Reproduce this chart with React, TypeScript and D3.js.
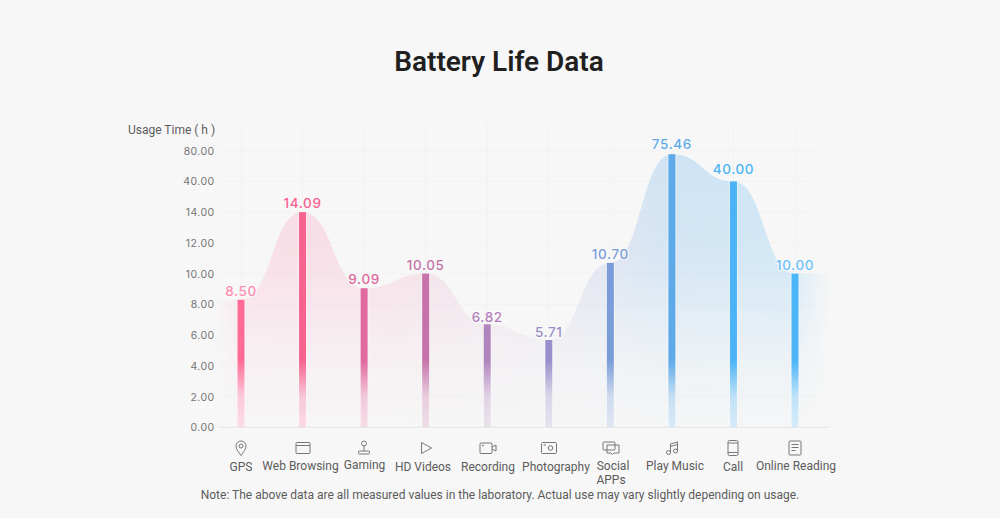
import React from "react";
import * as d3 from "d3";

const categories = ["GPS", "Web Browsing", "Gaming", "HD Videos", "Recording", "Photography", "Social APPs", "Play Music", "Call", "Online Reading"];
const valueLabels = ["8.50", "14.09", "9.09", "10.05", "6.82", "5.71", "10.70", "75.46", "40.00", "10.00"];
// Heights as actually drawn in the picture
const drawnLevels = [8.3, 14.06, 9.05, 10, 6.7, 5.68, 10.7, 75.46, 40, 10];
const yTicks = [0, 2, 4, 6, 8, 10, 12, 14, 40, 80];
const barColors = ["#ff6b96", "#f8628f", "#e0699d", "#c673a9", "#b085bd", "#9a8fca", "#7a9dd9", "#5eaae8", "#4bb3f6", "#4bb5f8"];
const labelColors = ["#ff8fb0", "#f8628f", "#e0699d", "#c673a9", "#b57fbc", "#9a8fca", "#7a9dd9", "#5eaae8", "#4bb3f6", "#6ec2f8"];

const W = 1000, H = 518;
const baseY = 427.3, topY = 150.7;
const yRange = yTicks.map((_, i) => baseY + ((topY - baseY) * i) / (yTicks.length - 1));
const y = d3.scaleLinear().domain(yTicks).range(yRange);
const x = d3.scalePoint().domain(categories).range([241, 795]);

const labelOffset = [4, 4, 4, 4, 2, 3, 3.5, 5, 7, 4];

const areaPoints: [number, number][] = [
  [190, drawnLevels[0]],
  ...categories.map((c, i) => [x(c)!, drawnLevels[i]] as [number, number]),
  [850, drawnLevels[9]],
];
const areaPath = d3.area<[number, number]>().x(d => d[0]).y0(baseY).y1(d => y(d[1])).curve(d3.curveBumpX)(areaPoints)!;

const catLabels: { t: string; x: number; y: number }[][] = [
  [{ t: "GPS", x: 241, y: 471 }],
  [{ t: "Web Browsing", x: 300.5, y: 470 }],
  [{ t: "Gaming", x: 364.5, y: 469 }],
  [{ t: "HD Videos", x: 423, y: 471 }],
  [{ t: "Recording", x: 488, y: 471 }],
  [{ t: "Photography", x: 556, y: 471 }],
  [{ t: "Social", x: 613, y: 470 }, { t: "APPs", x: 611, y: 484 }],
  [{ t: "Play Music", x: 675, y: 470 }],
  [{ t: "Call", x: 733, y: 471 }],
  [{ t: "Online Reading", x: 796, y: 470 }],
];

const iconStroke = { fill: "none", stroke: "#777", strokeWidth: 1 };
const icons: React.ReactNode[] = [
  <g {...iconStroke}><path d="M0 7.500 C-3 3.500 -5 1 -5 -2 A5 5 0 0 1 5 -2 C5 1 3 3.500 0 7.500Z" /><circle cx={0} cy={-2} r={2} /></g>,
  <g {...iconStroke}><rect x={-7} y={-5.500} width={14} height={11} rx={1} /><path d="M-7 -2.500H7" /></g>,
  <g {...iconStroke}><circle cx={0} cy={-4.500} r={2.500} /><path d="M0 -2V3" /><rect x={-5.500} y={3} width={11} height={3} rx={1} /></g>,
  <g {...iconStroke}><path d="M-4.500 -5.500L5.500 0L-4.500 5.500Z" strokeLinejoin="round" /></g>,
  <g {...iconStroke}><rect x={-8} y={-5} width={12} height={10.500} rx={1} /><path d="M4 -1L8 -3V3L4 1" /><circle cx={-5} cy={-2.500} r={0.600} /></g>,
  <g {...iconStroke}><rect x={-7.500} y={-5.500} width={15} height={11} rx={1} /><circle cx={1.500} cy={0} r={2.300} /><path d="M-5.500 -3H-3" /></g>,
  <g {...iconStroke}><rect x={-8} y={-6} width={12} height={8} rx={1} /><path d="M-4 -3H8V5H3L1.500 6.500L0 5H-4Z" /></g>,
  <g {...iconStroke}><circle cx={-3.500} cy={4.500} r={2} /><circle cx={3.500} cy={3} r={2} /><path d="M-1.500 4.500V-4L5.500 -6V3M-1.500 -1.500L5.500 -3.500" /></g>,
  <g {...iconStroke}><rect x={-5} y={-7.500} width={10} height={15} rx={1.500} /><path d="M-5 -5H5M-5 4.500H5" /></g>,
  <g {...iconStroke}><rect x={-6} y={-7} width={12} height={14} rx={1} /><path d="M-3.500 -3.500H3.500M-3.500 -0.500H3.500M-3.500 2.500H0.500" /></g>,
];
const iconX = [241, 303, 364, 426, 488, 549, 611, 672, 733, 795];

const num = "Inter, sans-serif";
const txt = "Roboto, sans-serif";

export default function App() {
  return (
    <svg width={W} height={H} viewBox={`0 0 ${W} ${H}`} style={{ position: "fixed", left: 0, top: 0, background: "#f7f7f7" }}>
      <defs>
        <linearGradient id="areaColor" gradientUnits="userSpaceOnUse" x1={215} x2={830} y1={0} y2={0}>
          <stop offset="0" stopColor="#fbd0dc" />
          <stop offset="0.27" stopColor="#f7d2de" />
          <stop offset="0.5" stopColor="#e5dae8" />
          <stop offset="0.75" stopColor="#c0dcf2" />
          <stop offset="1" stopColor="#bcdff6" />
        </linearGradient>
        <linearGradient id="fadeY" gradientUnits="userSpaceOnUse" x1={0} x2={0} y1={150} y2={427}>
          <stop offset="0" stopColor="#fff" stopOpacity={0.75} />
          <stop offset="0.4" stopColor="#fff" stopOpacity={0.6} />
          <stop offset="0.75" stopColor="#fff" stopOpacity={0.18} />
          <stop offset="1" stopColor="#fff" stopOpacity={0.02} />
        </linearGradient>
        <linearGradient id="fadeX" gradientUnits="userSpaceOnUse" x1={215} x2={832} y1={0} y2={0}>
          <stop offset="0" stopColor="#fff" stopOpacity={0} />
          <stop offset="0.05" stopColor="#fff" stopOpacity={1} />
          <stop offset="0.93" stopColor="#fff" stopOpacity={1} />
          <stop offset="1" stopColor="#fff" stopOpacity={0} />
        </linearGradient>
        <mask id="mX" maskUnits="userSpaceOnUse" x={0} y={0} width={W} height={H}>
          <rect width={W} height={H} fill="url(#fadeX)" />
        </mask>
        <mask id="mY" maskUnits="userSpaceOnUse" x={0} y={0} width={W} height={H}>
          <rect width={W} height={H} fill="url(#fadeY)" />
        </mask>
        {barColors.map((c, i) => (
          <linearGradient key={i} id={`bar${i}`} gradientUnits="userSpaceOnUse" x1={0} x2={0} y1={340} y2={427}>
            <stop offset="0" stopColor={c} />
            <stop offset="0.23" stopColor={c} />
            <stop offset="0.65" stopColor={c} stopOpacity={0.32} />
            <stop offset="1" stopColor={c} stopOpacity={0.2} />
          </linearGradient>
        ))}
      </defs>

      <text x={499} y={71} textAnchor="middle" fontFamily={txt} fontWeight={600} fontSize={28} fill="#1f1f1f">Battery Life Data</text>

      <g stroke="#f2f2f2" strokeWidth={1}>
        {categories.map(c => <line key={c} x1={x(c)} x2={x(c)} y1={122} y2={427} />)}
        {yTicks.map(t => <line key={t} x1={222} x2={815} y1={y(t)} y2={y(t)} />)}
        <line x1={222} x2={815} y1={122} y2={122} />
      </g>

      <g mask="url(#mX)">
        <g mask="url(#mY)">
          <path d={areaPath} fill="url(#areaColor)" />
        </g>
      </g>

      <line x1={218} x2={830} y1={baseY} y2={baseY} stroke="#e6e6e6" />

      {yTicks.map(t => (
        <text key={t} x={214.500} y={y(t) + 4} textAnchor="end" fontFamily={num} fontSize={10.500} letterSpacing={0.4} fill="#757575">{t.toFixed(2)}</text>
      ))}
      <text x={128} y={134} fontFamily={txt} fontSize={12} fill="#5c5c5c">Usage Time ( h )</text>

      {categories.map((c, i) => (
        <g key={c}>
          <rect x={x(c)! - 4.500} width={9} y={y(drawnLevels[i])} height={baseY - y(drawnLevels[i])} fill="#fff" fillOpacity={0.4} />
          <rect x={x(c)! - 3.500} width={7} y={y(drawnLevels[i])} height={baseY - y(drawnLevels[i])} fill={`url(#bar${i})`} />
          <text x={x(c)} y={y(drawnLevels[i]) - labelOffset[i]} textAnchor="middle" fontFamily={num} fontWeight={500} fontSize={13.500} letterSpacing={0.6}
            fill={labelColors[i]} stroke="#f9f9f9" strokeWidth={2.500} strokeOpacity={0.8} paintOrder="stroke" strokeLinejoin="round">{valueLabels[i]}</text>
          <g transform={`translate(${iconX[i]},448)`}>{icons[i]}</g>
          {catLabels[i].map(l => (
            <text key={l.t} x={l.x} y={l.y} textAnchor="middle" fontFamily={txt} fontSize={12} fill="#5c5c5c">{l.t}</text>
          ))}
        </g>
      ))}

      <text x={500} y={499} textAnchor="middle" fontFamily={txt} fontSize={12} fill="#5c5c5c">Note: The above data are all measured values in the laboratory. Actual use may vary slightly depending on usage.</text>
    </svg>
  );
}
